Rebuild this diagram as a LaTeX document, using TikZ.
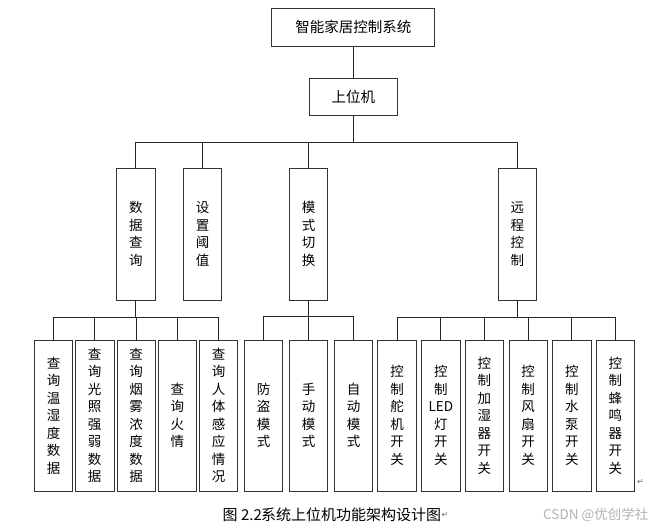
\documentclass[tikz,border=0pt]{standalone}
\usepackage{fontspec}
\setmainfont{Noto Sans CJK SC}
\newfontfamily\symfont{DejaVu Sans}
\begin{document}
\begin{tikzpicture}[x=1pt,y=-1pt,
  box/.style={draw=black!80, line width=0.8pt, inner sep=0pt, align=center,
    font=\fontsize{13.5}{17.5}\selectfont},
  vbox/.style={box, minimum width=38.5pt},
  ltwo/.style={vbox, minimum height=132pt},
  lthree/.style={vbox, minimum height=151pt},
  link/.style={draw=black!85, line width=0.8pt},
  captext/.style={anchor=west, inner sep=0pt, font=\fontsize{15}{18}\selectfont},
  retmark/.style={inner sep=0pt, text=black!60, font=\symfont\fontsize{8}{8}\selectfont}]
\useasboundingbox (0,0) rectangle (656,526);
% level 0 and 1
\node[box, minimum width=163pt, minimum height=38pt, font=\fontsize{14.5}{17}\selectfont] (sys) at (353.3,27) {智能家居控制系统};
\node[box, minimum width=88pt, minimum height=37pt, font=\fontsize{14.5}{17}\selectfont] (upc) at (353.3,96.5) {上位机};
% level 2
\node[ltwo] (q) at (135.8,234) {数\\据\\查\\询};
\node[ltwo] (t) at (202.5,234) {设\\置\\阈\\值};
\node[ltwo] (m) at (308.5,234) {模\\式\\切\\换};
\node[ltwo] (r) at (517.3,234) {远\\程\\控\\制};
% level 3
\node[lthree] (q1) at (53.5,415.5) {查\\询\\温\\湿\\度\\数\\据};
\node[lthree] (q2) at (94.7,415.5) {查\\询\\光\\照\\强\\弱\\数\\据};
\node[lthree] (q3) at (136.2,415.5) {查\\询\\烟\\雾\\浓\\度\\数\\据};
\node[lthree] (q4) at (177.3,415.5) {查\\询\\火\\情};
\node[lthree] (q5) at (218.5,415.5) {查\\询\\人\\体\\感\\应\\情\\况};
\node[lthree] (m1) at (263.5,415.5) {防\\盗\\模\\式};
\node[lthree] (m2) at (308.5,415.5) {手\\动\\模\\式};
\node[lthree] (m3) at (353.5,415.5) {自\\动\\模\\式};
\node[lthree] (r1) at (397,415.5) {控\\制\\舵\\机\\开\\关};
\node[lthree] (r2) at (440.8,415.5) {控\\制\\LED\\灯\\开\\关};
\node[lthree] (r3) at (484.3,415.5) {控\\制\\加\\湿\\器\\开\\关};
\node[lthree] (r4) at (528.2,415.5) {控\\制\\风\\扇\\开\\关};
\node[lthree] (r5) at (571.8,415.5) {控\\制\\水\\泵\\开\\关};
\node[lthree] (r6) at (615.3,415.5) {控\\制\\蜂\\鸣\\器\\开\\关};
% connectors
\draw[link] (sys) -- (upc);
\foreach \c in {q,t,m,r} \draw[link] (upc.south) -- ++(0,26.7) -| (\c.north);
\foreach \c in {q1,q2,q3,q4,q5} \draw[link] (q.south) -- ++(0,16.7) -| (\c.north);
\foreach \c in {m1,m2,m3} \draw[link] (m.south) -- ++(0,16.5) -| (\c.north);
\foreach \c in {r1,r2,r3,r4,r5,r6} \draw[link] (r.south) -- ++(0,17) -| (\c.north);
% caption and marks
\node[captext] (capa) at (222.5,514.7) {图 2.2};
\node[captext] (capb) at (261,514.7) {系统上位机功能架构设计图};
\node[retmark, anchor=west] (capret) at (capb.east) {↵};
\node[retmark] (boxret) at (640.5,482) {↵};
\node[anchor=west, inner sep=0pt, text=black!30, font=\fontsize{13.5}{15}\selectfont] (wm) at (543,514.5) {CSDN @优创学社};
\end{tikzpicture}
\end{document}
